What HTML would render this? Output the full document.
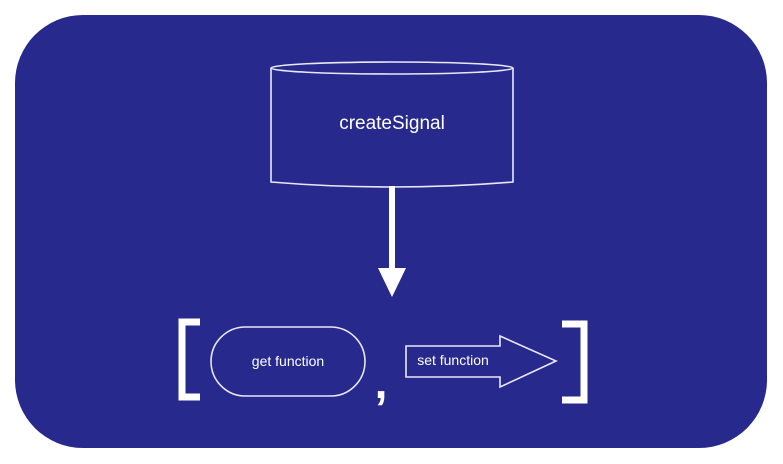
<!DOCTYPE html>
<html><head><meta charset="utf-8"><style>
html,body{margin:0;padding:0;background:#fff;width:783px;height:464px;overflow:hidden}
</style></head><body>
<svg width="783" height="464" viewBox="0 0 783 464" xmlns="http://www.w3.org/2000/svg">
<rect x="15" y="15" width="752" height="433" rx="68" ry="68" fill="#28298c"/>
<g fill="none" stroke="#e8e8f8" stroke-width="1.6">
<path d="M271 68 L271 182 Q392 192 513 182 L513 68"/>
<ellipse cx="392" cy="68" rx="121" ry="6"/>
<rect x="211" y="327" width="154" height="69" rx="34.5"/>
<path d="M406 346 L500 346 L500 336 L556 361 L500 387 L500 377 L406 377 Z"/>
</g>
<text x="392" y="129" fill="#fff" font-family="Liberation Sans, sans-serif" font-size="19" text-anchor="middle">createSignal</text>
<rect x="389" y="186" width="6" height="84" fill="#fff"/>
<polygon points="378,268 406,268 392,297" fill="#fff"/>
<path d="M200 322 L182 322 L182 397 L200 397" fill="none" stroke="#fff" stroke-width="7"/>
<path d="M562 324 L584 324 L584 400 L562 400" fill="none" stroke="#fff" stroke-width="7"/>
<text x="288" y="366" fill="#fff" font-family="Liberation Sans, sans-serif" font-size="14" text-anchor="middle">get function</text>
<text x="453" y="365" fill="#fff" font-family="Liberation Sans, sans-serif" font-size="14" text-anchor="middle">set function</text>
<text x="381" y="398" fill="#fff" font-family="Liberation Sans, sans-serif" font-size="46" font-weight="bold" text-anchor="middle">,</text>
</svg>
</body></html>
